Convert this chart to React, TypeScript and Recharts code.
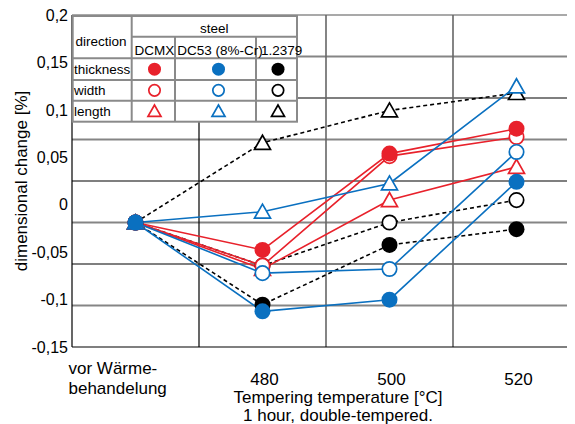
import React from 'react';
import { LineChart, Line, XAxis, YAxis, ReferenceLine } from 'recharts';

const FONT = '"Liberation Sans", Arial, sans-serif';

const categories = ['vor Wärme-\nbehandelung', '480', '500', '520'];
const steels = ['DCMX', 'DC53 (8%-Cr)', '1.2379'];
const directions = ['thickness', 'width', 'length'];

// values as drawn against the gridlines (0 at the start point)
const dcmxThickness = [0, -0.033, 0.083, 0.113];
const dcmxWidth = [0, -0.052, 0.08, 0.103];
const dcmxLength = [0, -0.056, 0.027, 0.067];
const dc53Thickness = [0, -0.107, -0.093, 0.049];
const dc53Width = [0, -0.061, -0.056, 0.085];
const dc53Length = [0, 0.013, 0.047, 0.164];
const k2379Thickness = [0, -0.099, -0.027, -0.008];
const k2379Width = [0, -0.052, 0.0, 0.027];
const k2379Length = [0, 0.096, 0.135, 0.156];

// printed tick labels, and the gridline levels
const yTicks = [-0.15, -0.1, -0.05, 0, 0.05, 0.1, 0.15, 0.2];
const gridLevels = [0.25, 0.2, 0.15, 0.1, 0.05, 0, -0.05, -0.1];
const bandEdges = [0.5, 1.5, 2.5];

const COLORS = ['#E8212B', '#0A70C0', '#000000'];
const SHAPES = ['filled', 'open', 'triangle'];

const seriesValues = [
  [dcmxThickness, dcmxWidth, dcmxLength],
  [dc53Thickness, dc53Width, dc53Length],
  [k2379Thickness, k2379Width, k2379Length],
];

const rows = categories.map((c, i) => {
  const row: Record<string, number> = { x: i };
  seriesValues.forEach((set, s) => set.forEach((vals, d) => { row[`s${s}d${d}`] = vals[i]; }));
  return row;
});

// black first, then red, blue on top; thickness last within each steel
const drawOrder: [number, number][] = [];
[2, 0, 1].forEach((s) => [2, 1, 0].forEach((d) => drawOrder.push([s, d])));

function Marker({ cx, cy, shape, color, size }: { cx: number; cy: number; shape: string; color: string; size: number }) {
  if (shape === 'filled') return <circle cx={cx} cy={cy} r={size} fill={color} />;
  if (shape === 'open') return <circle cx={cx} cy={cy} r={size - 0.8} fill="#fff" stroke={color} strokeWidth={1.7} />;
  const h = size * 0.95;
  return (
    <polygon
      points={`${cx},${cy - h} ${cx - size},${cy + h * 0.85} ${cx + size},${cy + h * 0.85}`}
      fill="#fff"
      stroke={color}
      strokeWidth={1.7}
      strokeLinejoin="miter"
    />
  );
}

function CategoryTick({ x, y, payload }: any) {
  const lines = categories[payload.value].split('\n');
  if (lines.length > 1) {
    return (
      <text x={x - 67} y={y + 19} fill="#000" fontSize={17} fontFamily={FONT} textAnchor="start">
        {lines.map((l, i) => (
          <tspan key={i} x={x - 67} dy={i === 0 ? 0 : 20}>{l}</tspan>
        ))}
      </text>
    );
  }
  return (
    <text x={x + 2} y={y + 30} fill="#000" fontSize={17} fontFamily={FONT} textAnchor="middle">
      {lines[0]}
    </text>
  );
}

function XTitle({ viewBox }: any) {
  const cx = viewBox.x + viewBox.width / 2 + 12;
  return (
    <g fontFamily={FONT} fontSize={17} fill="#000" textAnchor="middle">
      <text x={cx} y={viewBox.y + 56}>Tempering temperature [°C]</text>
      <text x={cx} y={viewBox.y + 74}>1 hour, double-tempered.</text>
    </g>
  );
}

function LegendTable() {
  const left = 64.7;
  const right = 289;
  const cols = [123.7, 167, 248];
  const rowsY = [8, 28.7, 50.3, 72, 92.7, 113.7];
  const centers = [146.5, 210.5, 270];
  const grey = '#8a8a8a';
  return (
    <svg width={567} height={416} style={{ position: 'absolute', left: 0, top: 0, pointerEvents: 'none' }}>
      <rect x={left} y={rowsY[0]} width={right - left} height={rowsY[5] - rowsY[0]} fill="#fff" />
      <g stroke={grey} strokeWidth={2}>
        <rect x={left} y={rowsY[0]} width={right - left} height={rowsY[5] - rowsY[0]} fill="none" />
        <line x1={cols[0]} y1={rowsY[0]} x2={cols[0]} y2={rowsY[5]} />
        <line x1={cols[1]} y1={rowsY[1]} x2={cols[1]} y2={rowsY[5]} />
        <line x1={cols[2]} y1={rowsY[1]} x2={cols[2]} y2={rowsY[5]} />
        <line x1={cols[0]} y1={rowsY[1]} x2={right} y2={rowsY[1]} />
        {rowsY.slice(2, 5).map((y) => (
          <line key={y} x1={left} y1={y} x2={right} y2={y} />
        ))}
      </g>
      <g fontFamily={FONT} fontSize={13.5} fill="#000">
        <text x={(cols[0] + right) / 2} y={25} textAnchor="middle">steel</text>
        <text x={67.5} y={38}>direction</text>
        <text x={126.5} y={47}>{steels[0]}</text>
        <text x={169.3} y={47}>{steels[1]}</text>
        <text x={253} y={47}>{steels[2]}</text>
        {directions.map((d, i) => (
          <text key={d} x={66} y={rowsY[2] + 16 + i * 21}>{d}</text>
        ))}
      </g>
      {directions.map((d, di) =>
        steels.map((s, si) => (
          <Marker
            key={`${d}-${s}`}
            cx={centers[si]}
            cy={(rowsY[2 + di] + rowsY[3 + di]) / 2}
            shape={SHAPES[di]}
            color={COLORS[si]}
            size={6.5}
          />
        ))
      )}
    </svg>
  );
}

export default function App() {
  return (
    <div style={{ width: 567, height: 416, overflow: 'hidden', position: 'relative', fontFamily: FONT }}>
      <LineChart width={572} height={416} data={rows} margin={{ top: 7, right: 0, bottom: 0, left: 0 }}>
        <XAxis
          type="number"
          dataKey="x"
          domain={[-0.5, 3.5]}
          ticks={[0, 1, 2, 3]}
          interval={0}
          tick={<CategoryTick />}
          tickLine={false}
          axisLine={{ stroke: '#000', strokeWidth: 1.2 }}
          height={77}
          label={<XTitle />}
        />
        <YAxis
          yAxisId="lab"
          type="number"
          domain={[-0.15, 0.2]}
          allowDataOverflow
          ticks={yTicks}
          interval={0}
          width={64}
          tickLine={false}
          tickSize={0}
          tickMargin={4}
          axisLine={{ stroke: '#000', strokeWidth: 1.2 }}
          tick={{ fill: '#000', fontSize: 16, fontFamily: FONT }}
          tickFormatter={(v: number) => String(v).replace('.', ',')}
          label={{
            value: 'dimensional change [%]',
            angle: -90,
            position: 'insideLeft',
            offset: 13,
            style: { textAnchor: 'middle', fontSize: 17, fill: '#000', fontFamily: FONT },
          }}
        />
        <YAxis yAxisId="main" hide type="number" domain={[-0.15, 0.25]} />
        {/* invisible carrier so the label axis gets a scale */}
        <Line
          yAxisId="lab"
          dataKey="s0d0"
          stroke="none"
          dot={false}
          activeDot={false}
          legendType="none"
          isAnimationActive={false}
        />
        {gridLevels.map((v, i) => (
          <ReferenceLine
            key={`h${v}`}
            yAxisId="main"
            y={v}
            stroke={i === 0 ? '#555' : i % 2 === 1 ? '#858585' : '#000'}
            strokeWidth={i % 2 === 1 ? 2 : 1.2}
          />
        ))}
        {bandEdges.map((v, i) => (
          <ReferenceLine
            key={`v${v}`}
            yAxisId="main"
            x={v}
            stroke={i === 0 ? '#000' : '#666'}
            strokeWidth={i === 0 ? 1.2 : 1.6}
          />
        ))}
        {drawOrder.map(([s, d]) => (
          <Line
            key={`s${s}d${d}`}
            yAxisId="main"
            dataKey={`s${s}d${d}`}
            name={`${steels[s]} ${directions[d]}`}
            type="linear"
            stroke={COLORS[s]}
            strokeWidth={1.6}
            strokeDasharray={s === 2 ? '4 3' : undefined}
            isAnimationActive={false}
            dot={(p: any) => (
              <Marker key={`s${s}d${d}-${p.index}`} cx={p.cx} cy={p.cy} shape={SHAPES[d]} color={COLORS[s]} size={8} />
            )}
            activeDot={false}
          />
        ))}
      </LineChart>
      <LegendTable />
    </div>
  );
}
